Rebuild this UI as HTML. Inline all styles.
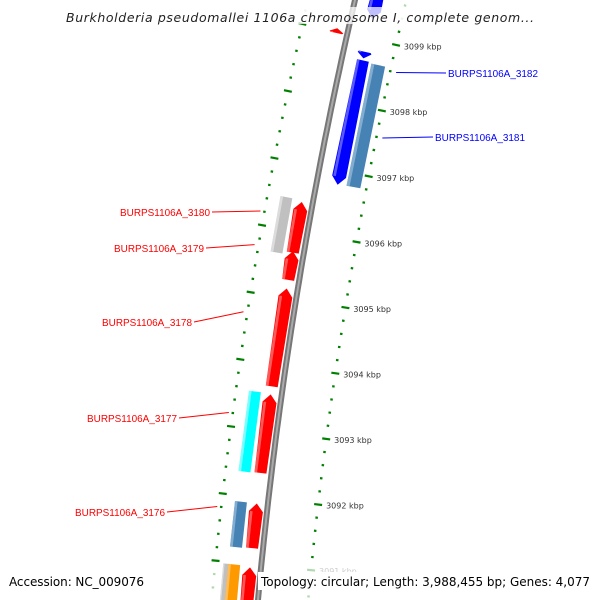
<!DOCTYPE html>
<html><head><meta charset="utf-8"><style>
html,body{margin:0;padding:0;background:#fff}
svg{display:block}
</style></head><body>
<svg id="chart" width="600" height="600" xmlns="http://www.w3.org/2000/svg">
<defs>
<linearGradient id="bb" x1="0" x2="1"><stop offset="0" stop-color="#6a6a6a"/><stop offset="0.5" stop-color="#b0b0b0"/><stop offset="1" stop-color="#7a7a7a"/></linearGradient>
</defs>
<g id="ring-layer"></g>
<g id="backbone-layer"></g>
<g id="gene-layer"></g>
<g id="label-layer"></g>
<rect x="62" y="7" width="476" height="17" fill="#fff" fill-opacity="0.75"/>
<text x="300" y="22" text-anchor="middle" font-family="'DejaVu Sans','Liberation Sans',sans-serif" font-style="italic" font-size="12.5" fill="#222" textLength="468">Burkholderia pseudomallei 1106a chromosome I, complete genom...</text>
<rect x="5" y="572" width="145" height="18" fill="#fff"/>
<text x="9" y="586" font-family="'DejaVu Sans','Liberation Sans',sans-serif" font-size="12" fill="#000" textLength="135">Accession: NC_009076</text>
<rect x="258" y="572" width="337" height="18" fill="#fff"/>
<text x="261" y="586" font-family="'DejaVu Sans','Liberation Sans',sans-serif" font-size="12" fill="#000" textLength="329">Topology: circular; Length: 3,988,455 bp; Genes: 4,077</text>
</svg>
<script>
const tickKbp = [3099, 3098, 3097, 3096, 3095, 3094, 3093, 3092, 3091];
const geneStart = [3099.8, 3098.80, 3098.67, 3098.65, 3096.47, 3096.44, 3095.70, 3095.14, 3093.56, 3093.55, 3091.91, 3091.91, 3090.97, 3090.97, 3090.95, 3099.05];
const geneEnd   = [3099.30, 3098.70, 3096.79, 3096.80, 3095.64, 3095.68, 3095.27, 3093.67, 3092.36, 3092.37, 3091.23, 3091.24, 3090.10, 3090.10, 3090.10, 3098.98];
const geneSlot  = [1, 1, 1, 2, -2, -1, -1, -1, -2, -1, -2, -1, -3, -2, -1, -1];
const geneDir   = [-1, -1, -1, 0, 0, 1, 1, 1, 0, 1, 0, 1, 0, 0, 1, 1];
const geneColor = ['#0000ff','#0000ff','#0000ff','#4682b4','#c0c0c0','#ff0000','#ff0000','#ff0000','#00ffff','#ff0000','#4682b4','#ff0000','#c0c0c0','#ff9900','#ff0000','#ff0000'];
const labelText = ['BURPS1106A_3182','BURPS1106A_3181','BURPS1106A_3180','BURPS1106A_3179','BURPS1106A_3178','BURPS1106A_3177','BURPS1106A_3176'];
const labelKbp  = [3098.6, 3097.6, 3096.2, 3095.7, 3094.7, 3093.2, 3091.8];

const NS='http://www.w3.org/2000/svg';
function tOf(k){return 34 + (3099 - k) * 66.4;}
function bx(t){return 355 - 0.2317*t + 1.167e-4*t*t;}
function pt(t,o){const d=-0.2317+2.333e-4*t;const n=Math.sqrt(1+d*d);return [bx(t)+o/n, t+o*(-d)/n];}
function mk(tag,attrs,parent){const e=document.createElementNS(NS,tag);for(const k in attrs)e.setAttribute(k,attrs[k]);parent.appendChild(e);return e;}
const ring=document.getElementById('ring-layer'), bb=document.getElementById('backbone-layer'), gl=document.getElementById('gene-layer'), ll=document.getElementById('label-layer');

// backbone
let pts=[];for(let t=-20;t<=630;t+=10){const p=pt(t,0);pts.push(p[0].toFixed(1)+','+p[1].toFixed(1));}
const bbo=mk('polyline',{points:pts.join(' '),fill:'none',stroke:'#777',"stroke-width":6},bb);


const bbi=mk('polyline',{points:pts.join(' '),fill:'none',stroke:'#aaa',"stroke-width":2},bb);



// tick rings
const kMax=tickKbp[0]+0.6, kMin=tickKbp[tickKbp.length-1]-0.4;
for(let i=0;Math.round((kMax-i*0.2)*10)/10>=kMin;i++){
  const k=Math.round((kMax-i*0.2)*10)/10;
  const t=tOf(k);
  const major=Math.abs(k-Math.round(k))<0.01;
  const len=major?8:2.5;
  [[-46,'left'],[50,'right']].forEach(([o,s])=>{
    const a=pt(t,o-len/2), b=pt(t,o+len/2);
    let op=1; const p=pt(t,o); if(p[1]<20||p[1]>565) op=0.3;
    const ln=mk('line',{x1:a[0],y1:a[1],x2:b[0],y2:b[1],stroke:'#008000',"stroke-width":2.2,opacity:op},ring);
    
    
  });
}
tickKbp.forEach(k=>{
  const t=tOf(k); const p=pt(t,58);
  const tx=mk('text',{x:p[0],y:p[1]+3,"font-family":"'DejaVu Sans','Liberation Sans',sans-serif","font-size":8,fill:'#333',opacity:p[1]>565?0.25:1},ring);
  tx.textContent=k+' kbp';
  
  
});

// genes
const slotOff={'1':21,'2':37,'-1':-11,'-2':-27,'-3':-35};
const slotW={'1':12,'2':14,'-1':12,'-2':12,'-3':6};
function light(c){const m={'#0000ff':'#8080ff','#4682b4':'#9bbfdc','#c0c0c0':'#e8e8e8','#ff0000':'#ff8080','#00ffff':'#b0ffff','#ff9900':'#ffcc80'};return m[c]||'#fff';}
geneStart.forEach((s,i)=>{
  let t1=tOf(s), t2=tOf(geneEnd[i]);
  const o=slotOff[geneSlot[i]], w=slotW[geneSlot[i]], dir=geneDir[i];
  const h=Math.min(8,(t2-t1)*0.8);
  const L=o-w/2, R=o+w/2;
  let poly=[];
  if(dir===1){poly=[pt(t1+h,L-1),pt(t1,o),pt(t1+h,R+1),pt(t2,R),pt(t2,L)];}
  else if(dir===-1){poly=[pt(t1,L),pt(t1,R),pt(t2-h,R+1),pt(t2,o),pt(t2-h,L-1)];}
  else {poly=[pt(t1,L),pt(t1,R),pt(t2,R),pt(t2,L)];}
  const g=mk('polygon',{points:poly.map(p=>p[0].toFixed(1)+','+p[1].toFixed(1)).join(' '),fill:geneColor[i]},gl);
  
  
  const a=t1+(dir===1?h:0), b=t2-(dir===-1?h:0);
  const st=[pt(a,L),pt(a,L+w*0.22),pt(b,L+w*0.22),pt(b,L)];
  const hl=mk('polygon',{points:st.map(p=>p[0].toFixed(1)+','+p[1].toFixed(1)).join(' '),fill:light(geneColor[i]),opacity:0.7},gl);
  
  
});

// labels
const labelPos=[[448,77,'start','#0000ff'],[435,141,'start','#0000ff'],[210,216,'end','#ff0000'],[204,252,'end','#ff0000'],[192,326,'end','#ff0000'],[177,422,'end','#ff0000'],[165,516,'end','#ff0000']];
labelText.forEach((txt,i)=>{
  const [x,y,anc,col]=labelPos[i];
  const side=anc==='start'?1:-1;
  const gp=pt(tOf(labelKbp[i]), side>0?56:-50);
  const ln=mk('line',{x1:gp[0],y1:gp[1],x2:x-side*2,y2:y-4,stroke:col,"stroke-width":1},ll);
  
  
  const tx=mk('text',{x:x,y:y,"text-anchor":anc,"font-family":"'Liberation Sans',sans-serif","font-size":10.5,fill:col,textLength:90,lengthAdjust:'spacingAndGlyphs'},ll);
  tx.textContent=txt;
  
  
});
</script>
</body></html>
